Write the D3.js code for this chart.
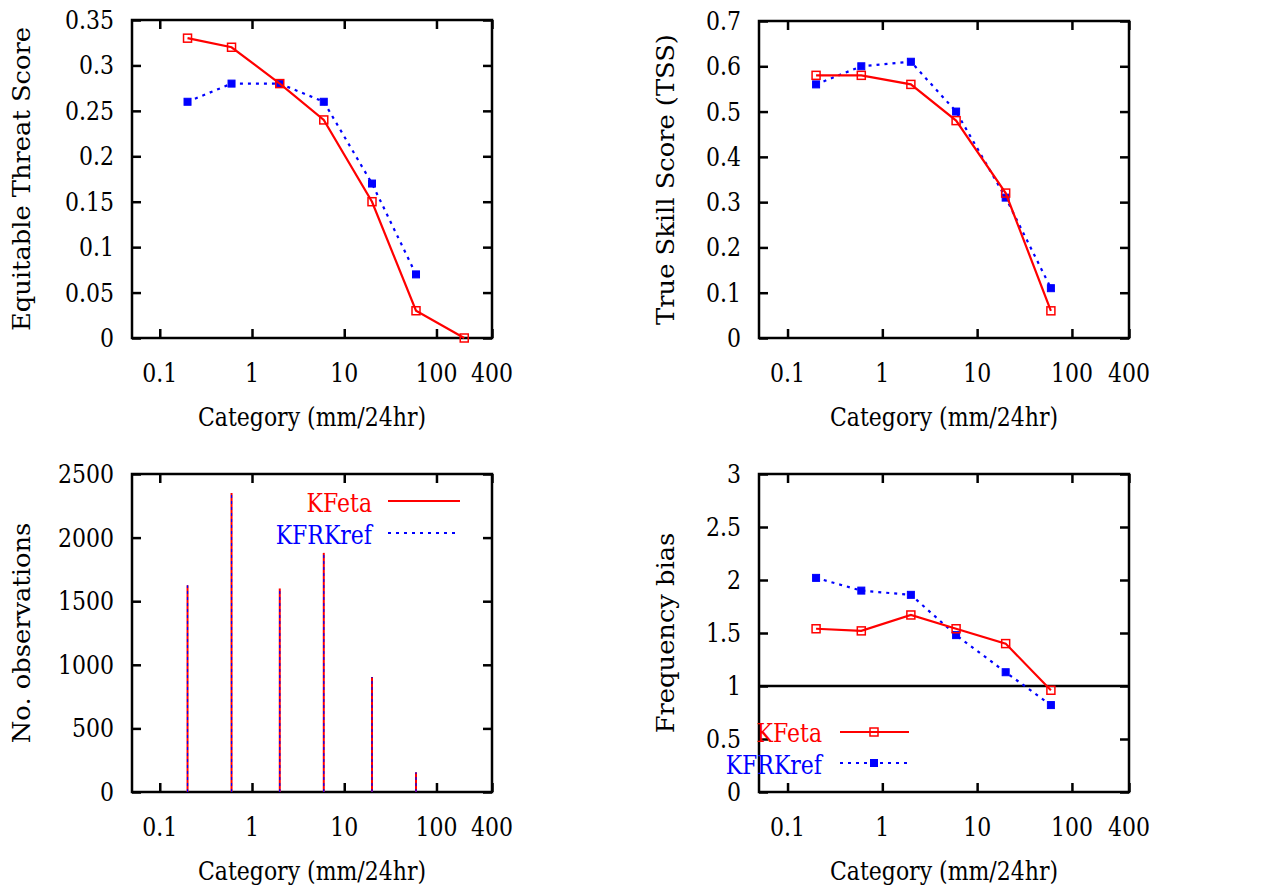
<!DOCTYPE html>
<html>
<head>
<meta charset="utf-8">
<script src="https://cdn.jsdelivr.net/npm/d3@7"></script>
<style>
  body { margin: 0; background: #fff; }
</style>
</head>
<body>
<div id="plot"></div>
<script>
// category thresholds (mm/24hr)
var categories = [0.2, 0.6, 2, 6, 20, 60, 200];

var etsKFeta   = [0.33, 0.32, 0.28, 0.24, 0.15, 0.03, 0.0];
var etsKFRKref = [0.26, 0.28, 0.28, 0.26, 0.17, 0.07, null];

var tssKFeta   = [0.58, 0.58, 0.56, 0.48, 0.32, 0.06, null];
var tssKFRKref = [0.56, 0.60, 0.61, 0.50, 0.31, 0.11, null];

var nObs = [1625, 2350, 1600, 1880, 905, 155, 0];

var biasKFeta   = [1.54, 1.52, 1.67, 1.54, 1.40, 0.96, null];
var biasKFRKref = [2.02, 1.90, 1.86, 1.48, 1.13, 0.82, null];

var xTickValues = [0.1, 1, 10, 100, 400];
var xTickLabels = ["0.1", "1", "10", "100", "400"];
var yTicksETS  = [0, 0.05, 0.1, 0.15, 0.2, 0.25, 0.3, 0.35];
var yTicksTSS  = [0, 0.1, 0.2, 0.3, 0.4, 0.5, 0.6, 0.7];
var yTicksObs  = [0, 500, 1000, 1500, 2000, 2500];
var yTicksBias = [0, 0.5, 1, 1.5, 2, 2.5, 3];

var RED = "#ff0000", BLUE = "#0000ff";
// the only serif font here is wider than the original's, so squeeze it a bit
var SX = 0.88, SY = 1.07;
var FS = 25;
var FONT = "DejaVu Serif";

var svg = d3.select("#plot")
  .append("svg")
    .attr("width", 1261)
    .attr("height", 890);

function txt(g, s, x, y, anchor, color, rotate) {
  // rotated titles in the original are long and thin (image was stretched vertically)
  var t = rotate ? " rotate(-90) scale(1.03,1)" : " scale(" + SX + "," + SY + ")";
  return g.append("text")
    .attr("transform", "translate(" + x + "," + y + ")" + t)
    .attr("text-anchor", anchor)
    .attr("font-family", FONT)
    .attr("font-size", FS)
    .attr("fill", color || "#000")
    .text(s);
}

function panel(box, yMax, yTicks, yTitle, yTitleX) {
  var g = svg.append("g");
  var x = d3.scaleLog().domain([0.05, 400]).range([box.left, box.right]);
  var y = d3.scaleLinear().domain([0, yMax]).range([box.bottom, box.top]);

  // inward ticks on all four sides
  var axes = [
    [d3.axisBottom(x).tickValues(xTickValues), "translate(0," + box.bottom + ")"],
    [d3.axisTop(x).tickValues(xTickValues), "translate(0," + box.top + ")"],
    [d3.axisLeft(y).tickValues(yTicks), "translate(" + box.left + ",0)"],
    [d3.axisRight(y).tickValues(yTicks), "translate(" + box.right + ",0)"]
  ];
  axes.forEach(function(a) {
    var ag = g.append("g")
      .attr("transform", a[1])
      .call(a[0].tickSizeInner(-9).tickSizeOuter(0).tickFormat(""));
    ag.select(".domain").remove();
    ag.selectAll("line").attr("stroke", "#000").attr("stroke-width", 2.5);
  });

  g.append("rect")
    .attr("x", box.left).attr("y", box.top)
    .attr("width", box.right - box.left).attr("height", box.bottom - box.top)
    .attr("fill", "none").attr("stroke", "#000").attr("stroke-width", 2.5);

  xTickValues.forEach(function(v, i) {
    txt(g, xTickLabels[i], x(v), box.bottom + 44, "middle");
  });
  yTicks.forEach(function(v) {
    txt(g, String(v), box.left - 18, y(v) + 9, "end");
  });

  txt(g, "Category (mm/24hr)", (box.left + box.right) / 2, box.bottom + 88, "middle");
  txt(g, yTitle, yTitleX, (box.top + box.bottom) / 2, "middle", "#000", true);

  return {g: g, x: x, y: y, box: box};
}

function series(p, vals, color, dashed, filled) {
  var pts = categories.map(function(c, i) { return [c, vals[i]]; })
    .filter(function(d) { return d[1] != null; });
  var line = d3.line()
    .x(function(d) { return p.x(d[0]); })
    .y(function(d) { return p.y(d[1]); });
  p.g.append("path")
    .datum(pts)
    .attr("d", line)
    .attr("fill", "none")
    .attr("stroke", color)
    .attr("stroke-width", 2.2)
    .attr("stroke-dasharray", dashed ? "3,5" : null);
  markers(p.g, pts.map(function(d) { return [p.x(d[0]), p.y(d[1])]; }), color, filled);
}

function markers(g, xy, color, filled) {
  g.selectAll(null)
    .data(xy)
    .enter()
    .append("rect")
      .attr("x", function(d) { return d[0] - (filled ? 3.5 : 4); })
      .attr("y", function(d) { return d[1] - (filled ? 3.5 : 4); })
      .attr("width", filled ? 7 : 8)
      .attr("height", filled ? 7 : 8)
      .attr("fill", filled ? color : "none")
      .attr("stroke", color)
      .attr("stroke-width", filled ? 1 : 1.5);
}

// top left: ETS
var p1 = panel({left: 132, right: 492, top: 20, bottom: 338}, 0.35, yTicksETS, "Equitable Threat Score", 30);
series(p1, etsKFRKref, BLUE, true, true);
series(p1, etsKFeta, RED, false, false);

// top right: TSS
var p2 = panel({left: 759, right: 1129, top: 21, bottom: 338}, 0.7, yTicksTSS, "True Skill Score (TSS)", 674);
series(p2, tssKFRKref, BLUE, true, true);
series(p2, tssKFeta, RED, false, false);

// bottom left: number of observations (impulses)
var p3 = panel({left: 132, right: 492, top: 474, bottom: 792}, 2500, yTicksObs, "No. observations", 30);
var imp = categories.map(function(c, i) { return [c, nObs[i]]; }).filter(function(d) { return d[1] > 0; });
p3.g.selectAll(null).data(imp).enter().append("line")
  .attr("x1", function(d) { return p3.x(d[0]); })
  .attr("x2", function(d) { return p3.x(d[0]); })
  .attr("y1", p3.y(0))
  .attr("y2", function(d) { return p3.y(d[1]); })
  .attr("stroke", RED).attr("stroke-width", 2);
p3.g.selectAll(null).data(imp).enter().append("line")
  .attr("x1", function(d) { return p3.x(d[0]); })
  .attr("x2", function(d) { return p3.x(d[0]); })
  .attr("y1", p3.y(0))
  .attr("y2", function(d) { return p3.y(d[1]); })
  .attr("stroke", BLUE).attr("stroke-width", 1.2).attr("stroke-dasharray", "3,3");

txt(p3.g, "KFeta", 372, 512, "end", RED);
p3.g.append("line").attr("x1", 388).attr("x2", 460).attr("y1", 501).attr("y2", 501)
  .attr("stroke", RED).attr("stroke-width", 2);
txt(p3.g, "KFRKref", 372, 544, "end", BLUE);
p3.g.append("line").attr("x1", 388).attr("x2", 460).attr("y1", 533).attr("y2", 533)
  .attr("stroke", BLUE).attr("stroke-width", 2).attr("stroke-dasharray", "3,5");

// bottom right: frequency bias
var p4 = panel({left: 759, right: 1129, top: 474, bottom: 792}, 3, yTicksBias, "Frequency bias", 674);
p4.g.append("line")
  .attr("x1", p4.box.left).attr("x2", p4.box.right)
  .attr("y1", p4.y(1)).attr("y2", p4.y(1))
  .attr("stroke", "#000").attr("stroke-width", 2.5);
series(p4, biasKFRKref, BLUE, true, true);
series(p4, biasKFeta, RED, false, false);

txt(p4.g, "KFeta", 822, 742, "end", RED);
p4.g.append("line").attr("x1", 840).attr("x2", 909).attr("y1", 732).attr("y2", 732)
  .attr("stroke", RED).attr("stroke-width", 2);
markers(p4.g, [[874, 732]], RED, false);
txt(p4.g, "KFRKref", 822, 774, "end", BLUE);
p4.g.append("line").attr("x1", 840).attr("x2", 909).attr("y1", 763).attr("y2", 763)
  .attr("stroke", BLUE).attr("stroke-width", 2).attr("stroke-dasharray", "3,5");
markers(p4.g, [[874, 763]], BLUE, true);
</script>
</body>
</html>
